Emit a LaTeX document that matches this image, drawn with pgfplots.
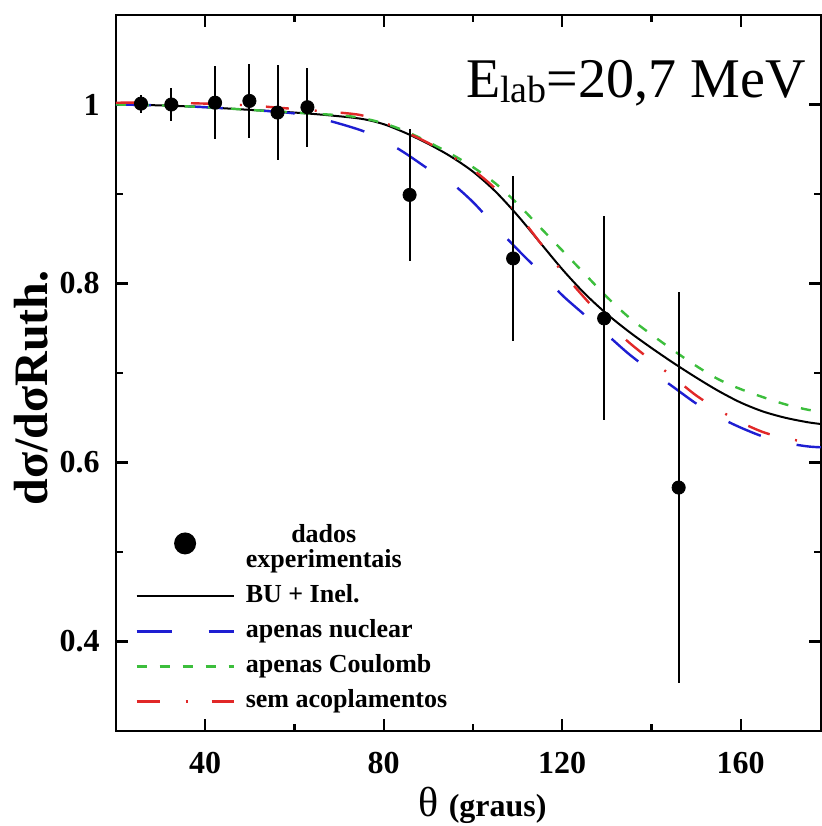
\documentclass[border=0pt]{standalone}
\usepackage{fontspec}
\setmainfont{Liberation Serif}
\usepackage{pgfplots}
\usepackage{pgfplotstable}
\pgfplotsset{compat=1.18}
\definecolor{cblue}{RGB}{30,30,210}
\definecolor{cgreen}{RGB}{60,190,60}
\definecolor{cred}{RGB}{225,40,40}

\pgfplotstableread{
x y e
25.6 1.001 0.010
32.4 1.000 0.018
42.2 1.002 0.041
49.9 1.004 0.041
56.2 0.991 0.053
62.9 0.997 0.044
85.8 0.899 0.074
109.0 0.828 0.092
129.4 0.761 0.114
146.1 0.572 0.218
}\dados

\pgfplotstableread{
x y
20 1.000
30 0.999
40 0.997
50 0.994
60 0.991
67.6 0.988
75 0.984
80 0.978
85 0.968
90 0.956
95 0.942
100 0.925
105 0.903
110 0.876
115 0.846
120 0.816
125 0.789
130 0.766
135 0.746
140 0.728
145 0.711
150 0.695
155 0.680
160 0.667
165 0.657
170 0.650
175 0.645
178 0.643
}\buinel

\pgfplotstableread{
x y
20 1.000
30 0.999
40 0.997
50 0.994
60 0.990
67.6 0.982
75 0.971
80 0.960
85 0.945
90 0.928
95 0.913
100 0.891
105 0.864
110 0.838
115 0.813
120 0.787
125 0.765
130 0.743
135 0.721
140 0.702
145 0.684
150 0.666
155 0.651
160 0.639
165 0.629
170 0.622
175 0.618
178 0.617
}\nuclear

\pgfplotstableread{
x y
20 1.000
30 0.999
40 0.997
50 0.994
60 0.991
70 0.988
75 0.985
80 0.979
85 0.970
90 0.958
95 0.945
100 0.930
105 0.912
110 0.889
115 0.863
120 0.837
125 0.811
130 0.785
135 0.762
140 0.743
145 0.725
150 0.708
155 0.693
160 0.682
165 0.673
170 0.665
175 0.659
178 0.657
}\coulomb

\pgfplotstableread{
x y
20 1.002
30 1.002
40 1.001
50 0.999
55 0.997
60 0.995
65 0.993
70 0.991
75 0.988
80 0.980
85 0.969
90 0.957
95 0.943
100 0.927
105 0.906
110 0.878
115 0.846
120 0.813
125 0.784
130 0.757
135 0.734
140 0.714
145 0.695
150 0.675
155 0.659
160 0.645
165 0.634
170 0.627
175 0.623
178 0.622
}\semacop

\begin{document}
\begin{tikzpicture}
\useasboundingbox (-58pt,-47.5pt) rectangle (352.5pt,365.5pt);
\begin{axis}[
  scale only axis, width=352.5pt, height=358pt,
  xmin=20, xmax=178, ymin=0.3, ymax=1.1,
  axis line style={line width=1.3pt},
  xtick={40,80,120,160}, minor x tick num=1,
  ytick={0.4,0.6,0.8,1}, minor y tick num=1,
  tick style={line width=1.1pt, black},
  major tick length=6pt, minor tick length=3.5pt,
  tick align=inside,
  /pgf/number format/assume math mode=true,
  ticklabel style={font=\bfseries\fontsize{16}{18}\selectfont},
  xticklabel style={anchor=base, yshift=-21pt},
  yticklabel style={anchor=east, inner sep=0pt, xshift=-8pt},
  xlabel={{\fontsize{21}{24}\selectfont θ}\hspace{5pt}{\bfseries\fontsize{16}{18}\selectfont (graus)}},
  xlabel style={at={(axis description cs:0.52,0)}, anchor=base, yshift=-42.5pt},
  ylabel={dσ/dσRuth.},
  ylabel style={at={(axis description cs:-0.1206,0.479)}, anchor=center, font=\bfseries\fontsize{24}{28}\selectfont},
  legend style={at={(axis description cs:0.02695,0.2779)}, anchor=north west, draw=none, fill=none, inner sep=0pt,
    font=\bfseries\fontsize{13}{15}\selectfont, nodes={inner sep=0pt, text height=11.75pt, text depth=5.75pt}, row sep=0pt, column sep=5.5pt},
  legend cell align=left,
  legend image code/.code={\draw[#1] (0pt,0pt) -- (48.5pt,0pt);},
]
\addlegendimage{legend image code/.code={\path[draw=none] (0pt,0pt) -- (48.5pt,0pt); \fill[black, draw=none] (24.25pt,9pt) circle (5.5pt);}}
\addlegendentry{\setbox0\hbox{experimentais}\rlap{\raisebox{12.5pt}{\hbox to \wd0{\hss dados\hss}}}experimentais}

\addplot[black, line width=1pt, smooth] table[x=x,y=y] {\buinel};
\addlegendentry{BU + Inel.}
\addplot[cblue, line width=1.2pt, smooth, dash pattern=on 17.5pt off 18.5pt] table[x=x,y=y] {\nuclear};
\addlegendentry{apenas nuclear}
\addplot[cgreen, line width=1.2pt, smooth, dash pattern=on 5pt off 6.5pt] table[x=x,y=y] {\coulomb};
\addlegendentry{apenas Coulomb}
\addplot[cred, line width=1.2pt, smooth, dash pattern=on 11.5pt off 13pt on 1pt off 12pt] table[x=x,y=y] {\semacop};
\addlegendentry{sem acoplamentos}

\addplot[forget plot, only marks, mark=*, mark size=3.3pt, black,
  error bars/.cd, y dir=both, y explicit, error mark=none,
  error bar style={line width=1pt, black}] table[x=x,y=y,y error=e] {\dados};

\node[anchor=base west, inner sep=0pt, font=\fontsize{28}{30}\selectfont] at (axis cs:98.4,1.008)
  {E\raisebox{-2.5pt}{\fontsize{19}{20}\selectfont lab}=20,7 MeV};
\end{axis}
\end{tikzpicture}
\end{document}
